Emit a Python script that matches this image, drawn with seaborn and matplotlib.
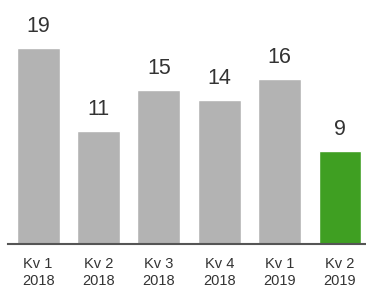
import matplotlib
matplotlib.use('Agg')
import matplotlib.pyplot as plt
import seaborn as sns
import pandas as pd

# Data
quarters = ['Kv 1\n2018', 'Kv 2\n2018', 'Kv 3\n2018', 'Kv 4\n2018', 'Kv 1\n2019', 'Kv 2\n2019']
values = [19, 11, 15, 14, 16, 9]
bar_colors = ['#b3b3b3', '#b3b3b3', '#b3b3b3', '#b3b3b3', '#b3b3b3', '#3f9f22']

df = pd.DataFrame({'Quarter': quarters, 'Value': values})

sns.set_style('white')
plt.rcParams['font.family'] = ['Liberation Sans', 'DejaVu Sans']

fig = plt.figure(figsize=(3.66, 2.89), dpi=100)
ax = fig.add_axes([8 / 366, 45 / 289, 358 / 366, 244 / 289])

sns.barplot(data=df, x='Quarter', y='Value', hue='Quarter', palette=bar_colors,
            legend=False, width=0.71, saturation=1, ax=ax)

for i, v in enumerate(values):
    ax.annotate(str(v), (i, v), xytext=(0, 11), textcoords='offset pixels',
                ha='center', va='bottom', fontsize=15.5, color='#333333')

ax.set_xlim(-0.5, 5.43)
ax.set_ylim(0, 23.7)
ax.set_xlabel('')
ax.set_ylabel('')
ax.set_yticks([])
sns.despine(ax=ax, left=True, top=True, right=True)
ax.spines['bottom'].set_color('#555555')
ax.spines['bottom'].set_linewidth(1.5)
ax.tick_params(axis='x', length=0, pad=9, labelsize=10.5, labelcolor='#333333')
for lbl in ax.get_xticklabels():
    lbl.set_linespacing(1.3)

fig.savefig('out.png', dpi=100)
